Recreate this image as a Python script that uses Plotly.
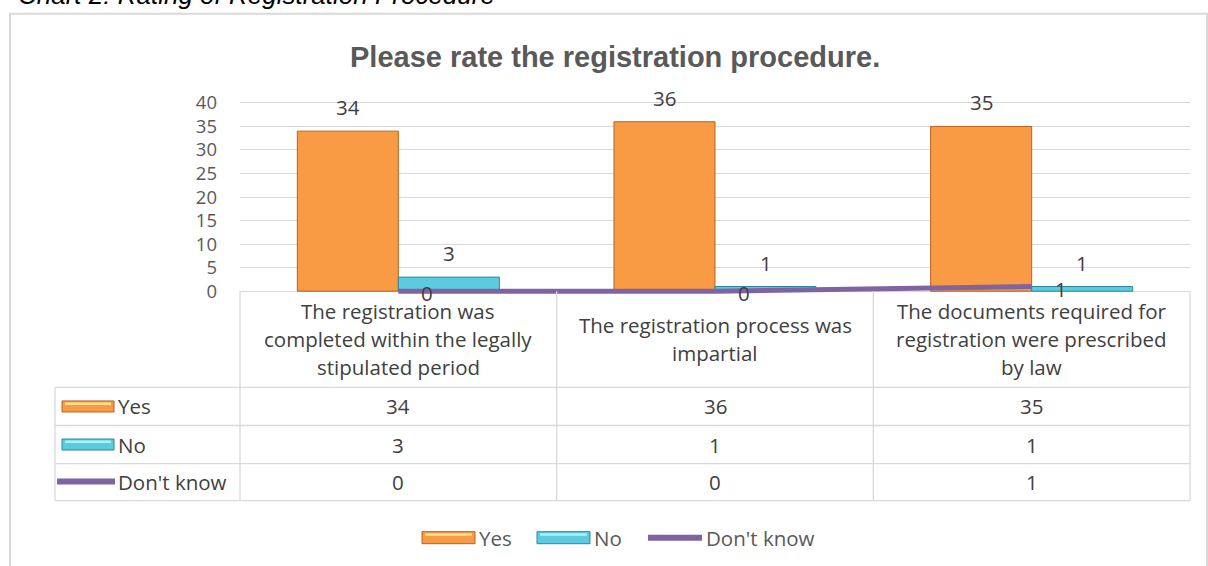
import plotly.graph_objects as go

categories = [
    "The registration was<br>completed within the legally<br>stipulated period",
    "The registration process was<br>impartial",
    "The documents required for<br>registration were prescribed<br>by law",
]
series_names = ["Yes", "No", "Don't know"]
yes_values = [34, 36, 35]
no_values = [3, 1, 1]
dontknow_values = [0, 0, 1]
y_ticks = [0, 5, 10, 15, 20, 25, 30, 35, 40]

chart_title = "Please rate the registration procedure."
caption = "Chart 2: Rating of Registration Procedure"

W, H = 1208, 566
PL, PR = 240, 1190          # plot area left / right in px
ZERO = 291                  # px of the 0 gridline
UNIT = (ZERO - 103) / 40.0  # px per unit (40 gridline at 103px)
YMIN, YMAX = -0.8, 40.4
PT = ZERO - YMAX * UNIT
PB = ZERO - YMIN * UNIT


def px(x):
    return (x - PL) / (PR - PL)


def py(y):
    return (PB - y) / (PB - PT)


ORANGE = "#F99A45"
ORANGE_LINE = "#B8631F"
CYAN = "#5CCBE0"
CYAN_LINE = "#2A879C"
PURPLE = "#8064A2"
GRID = "#D9D9D9"
TXT = "#404040"
FONT = "Open Sans"
FS = 20.5

fig = go.Figure()
fig.add_trace(go.Bar(x=categories, y=yes_values, name=series_names[0],
                     marker=dict(color=ORANGE, line=dict(color=ORANGE_LINE, width=1))))
fig.add_trace(go.Bar(x=categories, y=no_values, name=series_names[1],
                     marker=dict(color=CYAN, line=dict(color=CYAN_LINE, width=1))))
fig.add_trace(go.Scatter(x=categories, y=dontknow_values, name=series_names[2],
                         mode="lines", line=dict(color=PURPLE, width=5)))

ann = []
shapes = []


def txt(x, y, s, xanchor="center", size=FS, color=TXT, **kw):
    ann.append(dict(x=x, y=y, text=s, showarrow=False, xanchor=xanchor, yanchor="middle",
                    font=dict(size=size, color=color, family=FONT), **kw))


# data labels
for i, c in enumerate(categories):
    txt(c, yes_values[i], str(yes_values[i]), xref="x", yref="y", xshift=-50.5, yshift=24)
    txt(c, no_values[i], str(no_values[i]), xref="x", yref="y", xshift=50.5, yshift=24)
    txt(c, dontknow_values[i], str(dontknow_values[i]), xref="x", yref="y", xshift=29, yshift=-2)

# data table
row_y = [406, 444, 481]
row_vals = [yes_values, no_values, dontknow_values]
col_w = (PR - PL) / len(categories)
for i, c in enumerate(categories):
    xc = px(PL + col_w * (i + 0.5))
    lines = c.split("<br>")
    for k, s in enumerate(lines):
        yy = 339 + (k - (len(lines) - 1) / 2) * 28
        txt(xc, py(yy), s, xref="paper", yref="paper")
    for r in range(3):
        txt(xc, py(row_y[r]), str(row_vals[r][i]), xref="paper", yref="paper")

line = dict(color=GRID, width=1.3)
for yy in [387, 425, 463, 500]:
    shapes.append(dict(type="line", xref="paper", yref="paper", x0=px(55), x1=px(PR),
                       y0=py(yy), y1=py(yy), line=line))
shapes.append(dict(type="line", xref="paper", yref="paper", x0=px(55), x1=px(55),
                   y0=py(387), y1=py(500), line=line))
for k in range(len(categories) + 1):
    xx = px(PL + col_w * k)
    shapes.append(dict(type="line", xref="paper", yref="paper", x0=xx, x1=xx,
                       y0=py(ZERO), y1=py(500), line=line))


def bar_key(x0, yc, w, h, fill, edge, hi):
    shapes.append(dict(type="rect", xref="paper", yref="paper", x0=px(x0), x1=px(x0 + w),
                       y0=py(yc - h / 2), y1=py(yc + h / 2), fillcolor=fill,
                       line=dict(color=edge, width=1)))
    shapes.append(dict(type="rect", xref="paper", yref="paper", x0=px(x0 + 3), x1=px(x0 + w - 3),
                       y0=py(yc - h / 2 + 1.5), y1=py(yc - h / 2 + 4), fillcolor=hi,
                       line=dict(width=0)))


def line_key(x0, yc, w):
    shapes.append(dict(type="line", xref="paper", yref="paper", x0=px(x0), x1=px(x0 + w),
                       y0=py(yc), y1=py(yc), line=dict(color=PURPLE, width=6)))


# table legend keys
bar_key(62, row_y[0], 52, 11, ORANGE, ORANGE_LINE, "#FFE38F")
bar_key(62, row_y[1], 52, 11, CYAN, CYAN_LINE, "#A6F3FB")
line_key(57, row_y[2], 58)
for r, name in enumerate(series_names):
    txt(px(116), py(row_y[r]), name, xanchor="left", xref="paper", yref="paper")

# bottom legend
LY = 537
bar_key(422, LY, 53, 12, ORANGE, ORANGE_LINE, "#FFE38F")
bar_key(537, LY, 53, 12, CYAN, CYAN_LINE, "#A6F3FB")
line_key(648, LY, 54)
for x0, name in zip([477, 592, 704], series_names):
    txt(px(x0), py(LY), name, xanchor="left", color="#595959", xref="paper", yref="paper")

# chart frame
shapes.append(dict(type="rect", xref="paper", yref="paper", x0=px(10), x1=px(1207),
                   y0=py(620), y1=py(14), line=dict(color=GRID, width=2), layer="below"))

# titles
ann.append(dict(x=px(615), y=py(57), xref="paper", yref="paper", text="<b>" + chart_title + "</b>",
                showarrow=False, xanchor="center", yanchor="middle",
                font=dict(size=29, color="#595959", family="Liberation Sans")))
ann.append(dict(x=px(16), y=py(-5), xref="paper", yref="paper", text="<i>" + caption + "</i>",
                showarrow=False, xanchor="left", yanchor="middle",
                font=dict(size=26, color="#000000", family="Liberation Sans")))

fig.update_layout(
    width=W, height=H,
    margin=dict(l=PL, r=W - PR, t=PT, b=H - PB, pad=0),
    paper_bgcolor="white", plot_bgcolor="white",
    showlegend=False,
    barmode="group", bargap=0.362, bargroupgap=0,
    annotations=ann, shapes=shapes,
    xaxis=dict(showticklabels=False, showgrid=False, zeroline=False, showline=False,
               range=[-0.5, 2.5], fixedrange=True),
    yaxis=dict(range=[YMIN, YMAX], tickvals=y_ticks, showgrid=True, gridcolor=GRID, gridwidth=1.3,
               zeroline=True, zerolinecolor=GRID, zerolinewidth=1.3, showline=False,
               ticks="", ticklabelstandoff=22,
               tickfont=dict(size=18.5, color="#595959", family=FONT)),
)

fig.write_html("out.html", config={"displayModeBar": False},
               post_script="document.body.style.margin='0px';")
